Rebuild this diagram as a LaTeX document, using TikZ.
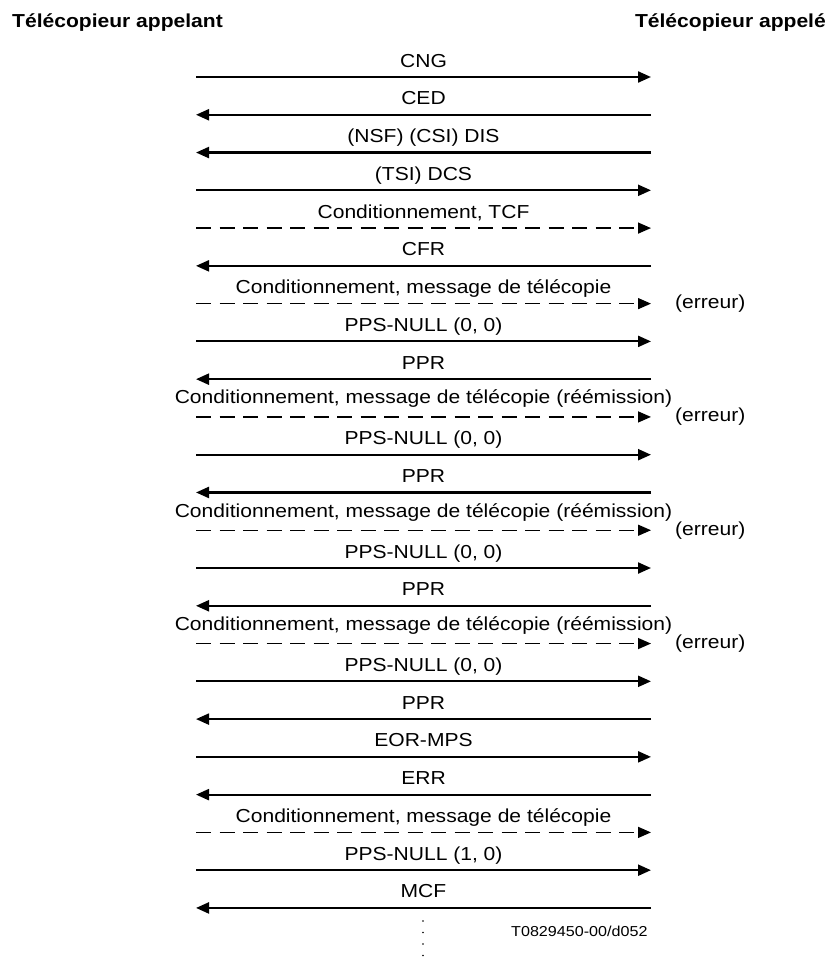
\documentclass[tikz,border=0pt]{standalone}
\usepackage{fontspec}
\setmainfont[FakeStretch=1.12]{Liberation Sans}
\usetikzlibrary{arrows.meta}
\tikzset{
  msg/.style={line width=2.2pt,-{Triangle[length=13pt,width=11pt]}},
  dmsg/.style={line width=1.4pt,dash pattern=on 15pt off 8.5pt,-{Triangle[length=13pt,width=11pt]}},
  lab/.style={anchor=base,inner sep=0pt,font=\fontsize{18.8}{22}\selectfont},
  err/.style={anchor=west,inner sep=0pt,font=\fontsize{18.8}{22}\selectfont},
  ttl/.style={inner sep=0pt,font=\fontsize{18.8}{22}\selectfont\bfseries},
}
\begin{document}
\begin{tikzpicture}[x=1pt,y=-1pt]
\useasboundingbox (0,0) rectangle (831,958);
\node[ttl,anchor=base west] (tA) at (12,28) {Télécopieur appelant};
\node[ttl,anchor=base east] (tB) at (826,28) {Télécopieur appelé};
% rows: y = 77 + 37.77*i
\foreach \i in {0,...,22} {
  \pgfmathsetmacro{\yy}{77+37.77*\i}
  \coordinate (L\i) at (196,\yy);
  \coordinate (R\i) at (651,\yy);
  \coordinate (M\i) at (423.5,\yy-10);
  \coordinate (H\i) at (423.5,\yy-13);
}
% right-going solid
\foreach \i/\t in {0/CNG,3/(TSI) DCS,7/{PPS-NULL (0, 0)},10/{PPS-NULL (0, 0)},13/{PPS-NULL (0, 0)},16/{PPS-NULL (0, 0)},18/EOR-MPS,21/{PPS-NULL (1, 0)}} {
  \draw[msg] (L\i) -- (R\i);
  \node[lab] (n\i) at (M\i) {\t};
}
% left-going solid
\foreach \i/\t in {1/CED,2/(NSF) (CSI) DIS,5/CFR,8/PPR,11/PPR,14/PPR,17/PPR,19/ERR,22/MCF} {
  \draw[msg] (R\i) -- (L\i);
  \node[lab] (n\i) at (M\i) {\t};
}
% dashed
\foreach \i/\t in {4/{Conditionnement, TCF},6/{Conditionnement, message de télécopie},20/{Conditionnement, message de télécopie}} {
  \draw[dmsg] (L\i) -- (R\i);
  \node[lab] (n\i) at (M\i) {\t};
}
\foreach \i in {9,12,15} {
  \draw[dmsg] (L\i) -- (R\i);
  \node[lab] (n\i) at (H\i) {Conditionnement, message de télécopie (réémission)};
}
\foreach \i in {6,9,12,15} {
  \node[err] (e\i) at ([xshift=24pt]R\i) {(erreur)};
}
\coordinate (d0) at (423,921);
\coordinate (d1) at (423,962);
\draw[line width=1.6pt,line cap=round,dash pattern=on 0pt off 11.5pt] (d0) -- (d1);
\node[anchor=west,inner sep=0pt,font=\fontsize{14.4}{17}\selectfont] (id) at (511,931) {T0829450-00/d052};
\end{tikzpicture}
\end{document}
